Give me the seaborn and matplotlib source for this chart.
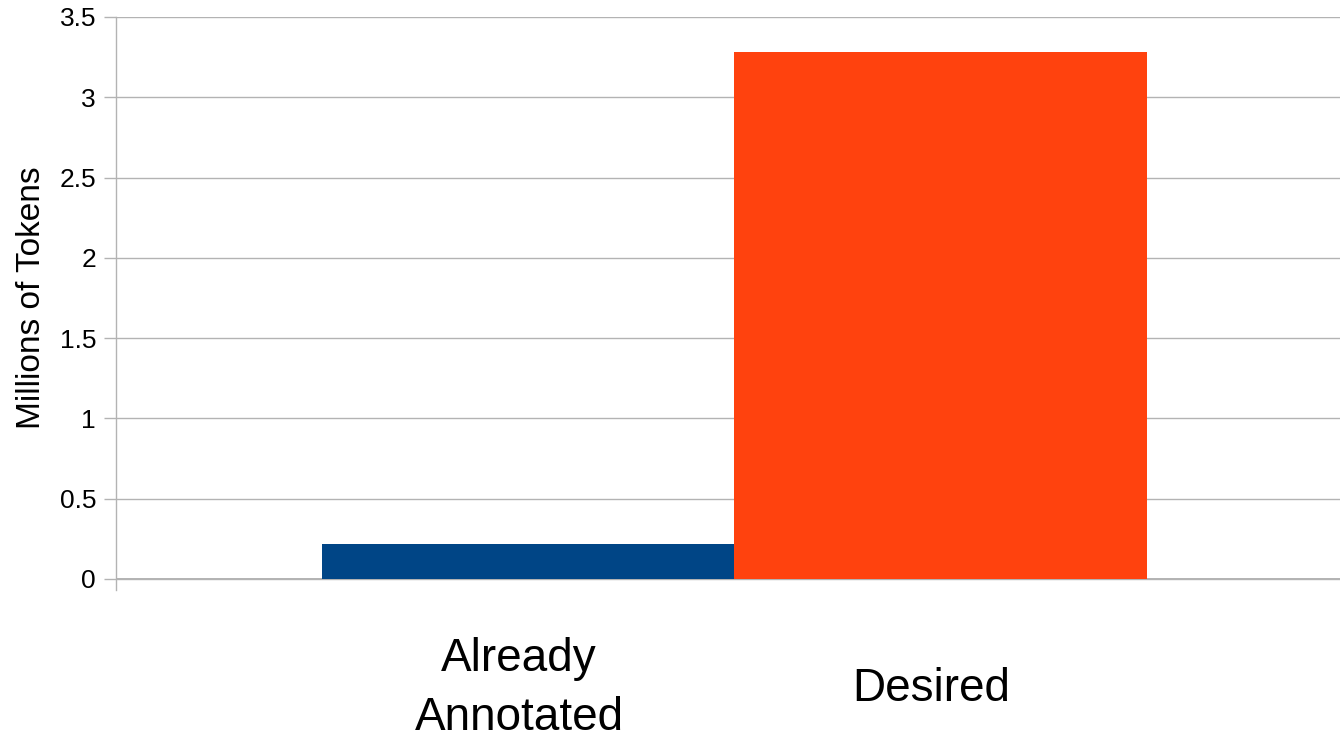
import matplotlib
matplotlib.use("Agg")
import matplotlib.pyplot as plt
import matplotlib.transforms as mtransforms
import seaborn as sns
import pandas as pd

categories = ["Already\nAnnotated", "Desired"]
values = [0.218, 3.28]
colors = ["#004586", "#ff420e"]
y_ticks = [0, 0.5, 1, 1.5, 2, 2.5, 3, 3.5]
y_tick_labels = ["0", "0.5", "1", "1.5", "2", "2.5", "3", "3.5"]
y_title = "Millions of Tokens"

sns.set_theme(style="white")
plt.rcParams["font.family"] = ["Liberation Sans", "DejaVu Sans"]

df = pd.DataFrame({"cat": categories, "val": values})

fig = plt.figure(figsize=(13.4, 7.36), dpi=100)
W, H = 1340, 736
left, right, top, bottom = 115.5, 1353, 17, 590
ax = fig.add_axes([left / W, 1 - bottom / H, (right - left) / W, (bottom - top) / H])

sns.barplot(data=df, x="cat", y="val", hue="cat", palette=colors, width=1.0,
            legend=False, ax=ax, saturation=1, edgecolor="none", linewidth=0)

grid_c = "#b3b3b3"
ax.set_xlim(-1, 2)
ax.set_ylim(-11 / 160.57, 3.5)
ax.set_yticks(y_ticks)
ax.set_yticklabels(y_tick_labels, fontsize=19)
ax.set_axisbelow(True)
ax.yaxis.grid(True, color=grid_c, linewidth=1.0)
ax.xaxis.grid(False)
ax.axhline(0, color=grid_c, linewidth=1.4, zorder=0.5)

for s in ["top", "right", "bottom"]:
    ax.spines[s].set_visible(False)
ax.spines["left"].set_color(grid_c)
ax.spines["left"].set_linewidth(1.0)

ax.tick_params(axis="y", which="major", length=8.5, width=1.0, color=grid_c,
               pad=5.5, left=True, labelcolor="black")
ax.tick_params(axis="x", length=0, pad=71, labelsize=33, labelcolor="black")
shift = mtransforms.ScaledTranslation(-9 / 100, 0, fig.dpi_scale_trans)
for lab in ax.get_xticklabels():
    lab.set_verticalalignment("center")
    lab.set_multialignment("center")
    lab.set_linespacing(1.42)
    lab.set_transform(lab.get_transform() + shift)

ax.set_xlabel("")
ax.set_ylabel(y_title, fontsize=24, color="black", va="center")
ax.yaxis.set_label_coords((31 - left) / (right - left), (bottom - 297.5) / (bottom - top))

fig.savefig("out.png", dpi=100, facecolor="white")
